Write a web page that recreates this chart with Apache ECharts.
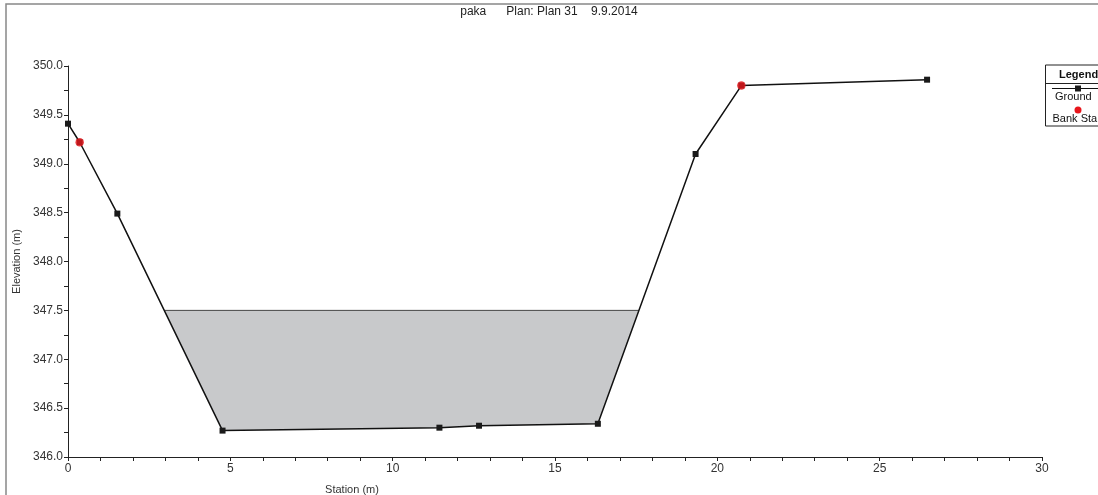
<!DOCTYPE html>
<html><head><meta charset="utf-8">
<script src="https://cdn.jsdelivr.net/npm/echarts@6/dist/echarts.min.js"></script>
<style>html,body{margin:0;padding:0;background:#fff}#c{width:1098px;height:495px}</style>
</head><body><div id="c"></div>
<script>
const titleText = 'paka      Plan: Plan 31    9.9.2014';
const groundStation = [0, 0.36, 1.52, 4.76, 11.44, 12.66, 16.32, 19.33, 20.74, 26.46];
const groundElev = [349.41, 349.22, 348.49, 346.27, 346.30, 346.32, 346.34, 349.10, 349.80, 349.86];
const bankStation = [0.36, 20.74];
const bankElev = [349.22, 349.80];
const wsElev = 347.5;

const ground = groundStation.map((s, i) => [s, groundElev[i]]);
const bank = bankStation.map((s, i) => [s, bankElev[i]]);

// water polygon: portion of the ground below the water surface, closed by the WS line
const waterPoly = [];
for (let i = 0; i < ground.length - 1; i++) {
  const [x1, y1] = ground[i], [x2, y2] = ground[i + 1];
  if (y1 <= wsElev) waterPoly.push([x1, y1]);
  if ((y1 - wsElev) * (y2 - wsElev) < 0) {
    const t = (wsElev - y1) / (y2 - y1);
    waterPoly.push([x1 + t * (x2 - x1), wsElev]);
  }
}
const wsLine = [waterPoly[0], waterPoly[waterPoly.length - 1]];

const chart = echarts.init(document.getElementById('c'), null, {renderer: 'canvas'});
const font = 'Liberation Sans, Arial, sans-serif';
chart.setOption({
  animation: false,
  backgroundColor: '#fff',
  textStyle: {fontFamily: font},
  grid: {left: 68, right: 56, top: 66, bottom: 38, containLabel: false},
  xAxis: {
    type: 'value', min: 0, max: 30, interval: 5,
    axisLine: {lineStyle: {color: '#222', width: 1}},
    axisTick: {show: true, length: 4, lineStyle: {color: '#222'}},
    minorTick: {show: true, splitNumber: 5, length: 4, lineStyle: {color: '#222'}},
    splitLine: {show: false},
    axisLabel: {color: '#333', fontSize: 12, margin: 6, fontFamily: font}
  },
  yAxis: {
    type: 'value', min: 346, max: 350, interval: 0.5,
    name: 'Elevation (m)', nameLocation: 'middle', nameGap: 45,
    nameTextStyle: {color: '#333', fontSize: 11, fontFamily: font},
    axisLine: {show: true, lineStyle: {color: '#222', width: 1}},
    axisTick: {show: true, length: 4, lineStyle: {color: '#222'}},
    minorTick: {show: true, splitNumber: 2, length: 4, lineStyle: {color: '#222'}},
    splitLine: {show: false},
    axisLabel: {color: '#333', fontSize: 12, margin: 5, fontFamily: font,
      formatter: v => v.toFixed(1)}
  },
  series: [
    {
      type: 'custom', name: 'WS', z: 1, silent: true,
      data: [[0, wsElev]],
      renderItem: (params, api) => ({
        type: 'polygon',
        shape: {points: waterPoly.map(p => api.coord(p))},
        style: {fill: '#c8c9cb', stroke: null}
      })
    },
    {
      type: 'line', name: 'WS line', z: 2, data: wsLine, symbol: 'none',
      lineStyle: {color: '#444', width: 1}
    },
    {
      type: 'line', name: 'Ground', z: 3, data: ground,
      symbol: 'rect', symbolSize: 6,
      itemStyle: {color: '#1a1a1a'},
      lineStyle: {color: '#111', width: 1.5}
    },
    {
      type: 'scatter', name: 'Bank Sta', z: 4, data: bank,
      symbol: 'circle', symbolSize: 8.5,
      itemStyle: {color: '#e8161c'}
    }
  ],
  graphic: [
    {type: 'rect', shape: {x: 6, y: 4, width: 1200, height: 600}, style: {fill: null, stroke: '#888', lineWidth: 1.5}, silent: true},
    {type: 'text', left: 'center', top: 6, style: {text: titleText, font: '12px ' + font, fill: '#222'}},
    {type: 'text', x: 352, y: 490, style: {text: 'Station (m)', font: '11px ' + font, fill: '#333', textAlign: 'center', textVerticalAlign: 'middle'}},
    {type: 'rect', shape: {x: 1045.5, y: 65, width: 80, height: 61}, style: {fill: '#fff', stroke: '#222', lineWidth: 1}},
    {type: 'line', shape: {x1: 1045.5, y1: 83.5, x2: 1100, y2: 83.5}, style: {stroke: '#222', lineWidth: 1}},
    {type: 'text', x: 1059, y: 74.5, style: {text: 'Legend', font: 'bold 11px ' + font, fill: '#111', textVerticalAlign: 'middle'}},
    {type: 'line', shape: {x1: 1052, y1: 88.5, x2: 1100, y2: 88.5}, style: {stroke: '#111', lineWidth: 1.2}},
    {type: 'rect', shape: {x: 1075, y: 85.5, width: 6, height: 6}, style: {fill: '#1a1a1a'}},
    {type: 'text', x: 1055, y: 97, style: {text: 'Ground', font: '11px ' + font, fill: '#111', textVerticalAlign: 'middle'}},
    {type: 'circle', shape: {cx: 1078, cy: 110, r: 3.5}, style: {fill: '#e8161c'}},
    {type: 'text', x: 1052.5, y: 118.5, style: {text: 'Bank Sta', font: '11px ' + font, fill: '#111', textVerticalAlign: 'middle'}}
  ]
});
</script></body></html>
